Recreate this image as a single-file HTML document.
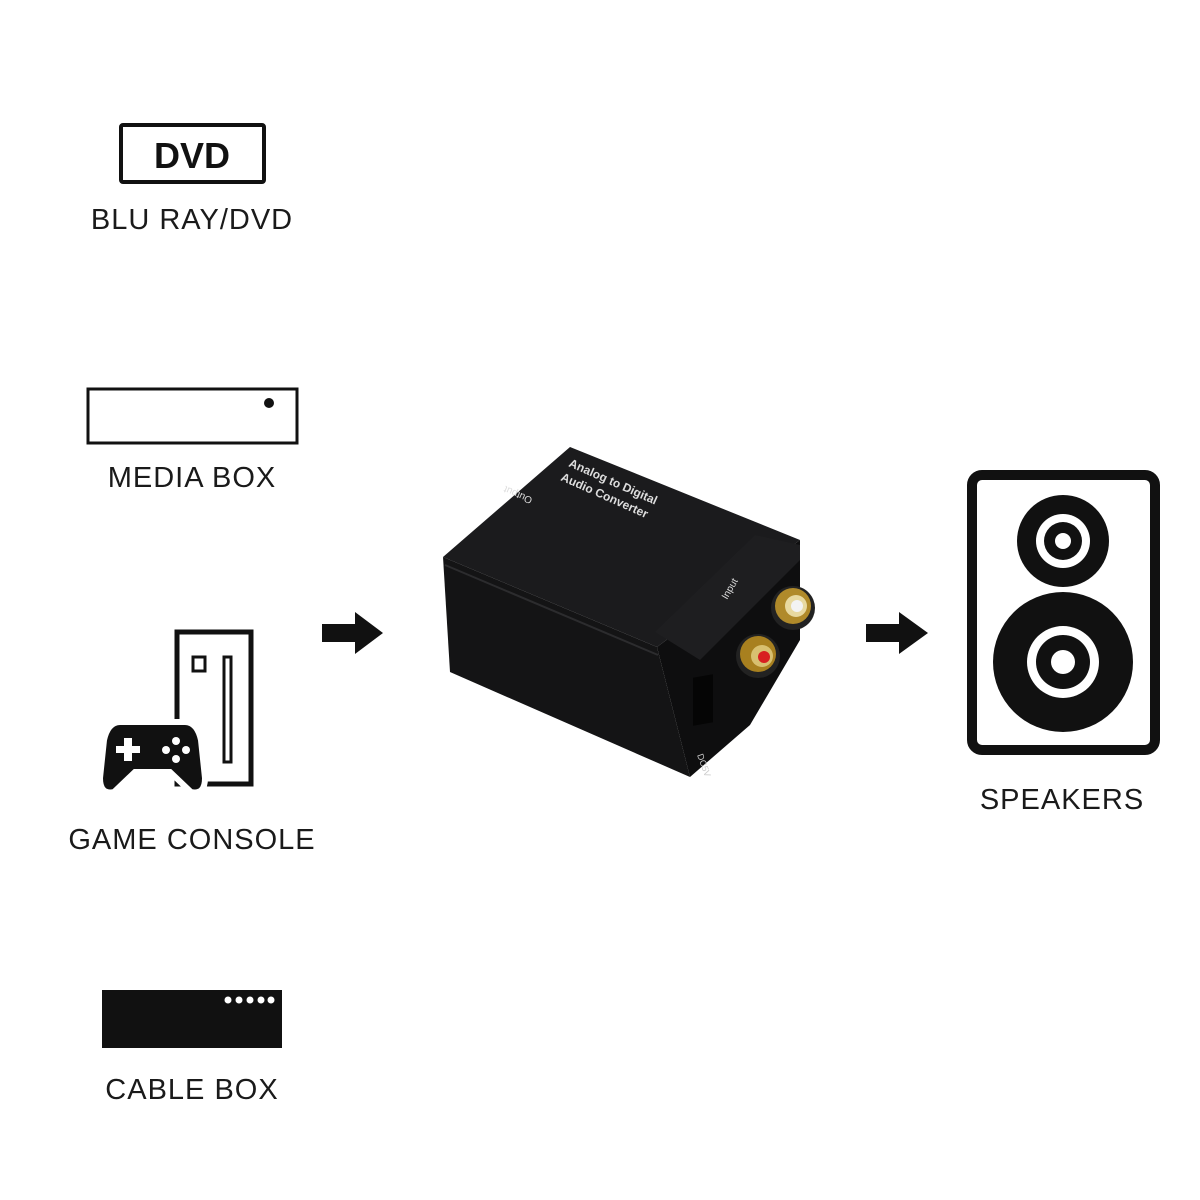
<!DOCTYPE html>
<html><head><style>
body{margin:0;width:1200px;height:1200px;background:#fff;position:relative;overflow:hidden;font-family:"Liberation Sans","DejaVu Sans",sans-serif}
.lbl{position:absolute;font-size:29px;color:#1a1a1a;text-align:center;width:400px;letter-spacing:1px}
</style></head><body>
<svg width="1200" height="1200" style="position:absolute;left:0;top:0">
<!-- DVD -->
<rect x="121" y="125" width="143" height="57" fill="none" stroke="#111" stroke-width="4" rx="2"/>
<text x="192" y="168" font-family="Liberation Sans" font-weight="bold" font-size="36" text-anchor="middle" fill="#111">DVD</text>
<!-- media box -->
<rect x="88" y="389" width="209" height="54" fill="none" stroke="#111" stroke-width="3"/>
<circle cx="269" cy="403" r="5" fill="#111"/>
<!-- game console tower -->
<rect x="177" y="632" width="74" height="152" fill="none" stroke="#111" stroke-width="5"/>
<rect x="193" y="657" width="12" height="14" fill="none" stroke="#111" stroke-width="3"/>
<rect x="224" y="657" width="7" height="105" fill="none" stroke="#111" stroke-width="3"/>
<!-- controller -->
<path d="M120 722 Q108 722 104 740 L100 778 Q100 795 114 792 L135 772 L170 772 L191 792 Q205 795 205 778 L201 740 Q197 722 185 722 Z" fill="#111" stroke="#fff" stroke-width="6"/>
<rect x="116" y="746" width="24" height="7" fill="#fff"/><rect x="124" y="738" width="8" height="23" fill="#fff"/>
<circle cx="176" cy="741" r="4" fill="#fff"/><circle cx="186" cy="750" r="4" fill="#fff"/><circle cx="176" cy="759" r="4" fill="#fff"/><circle cx="166" cy="750" r="4" fill="#fff"/>
<!-- cable box -->
<rect x="102" y="990" width="180" height="58" fill="#111"/>
<circle cx="228" cy="1000" r="3.5" fill="#fff"/><circle cx="239" cy="1000" r="3.5" fill="#fff"/><circle cx="250" cy="1000" r="3.5" fill="#fff"/><circle cx="261" cy="1000" r="3.5" fill="#fff"/><circle cx="271" cy="1000" r="3.5" fill="#fff"/>
<!-- arrows -->
<path d="M322 624 L355 624 L355 612 L383 633 L355 654 L355 642 L322 642 Z" fill="#111"/>
<path d="M866 624 L899 624 L899 612 L928 633 L899 654 L899 642 L866 642 Z" fill="#111"/>
<!-- converter -->
<polygon points="443,557 570,447 800,540 657,647" fill="#1b1b1d"/>
<polygon points="443,557 657,647 690,777 450,672" fill="#141415"/>
<polygon points="657,647 800,540 800,640 750,725 690,777" fill="#0e0e0f"/>
<polygon points="655,632 755,535 800,545 800,560 700,660" fill="#1e1e20"/>
<line x1="445" y1="565" x2="658" y2="655" stroke="#2c2c2e" stroke-width="2"/>
<text font-family="Liberation Sans" font-weight="bold" font-size="12" fill="#ddd" transform="translate(568,466) rotate(24)">Analog to Digital</text>
<text font-family="Liberation Sans" font-weight="bold" font-size="12" fill="#ddd" transform="translate(560,480) rotate(24)">Audio Converter</text>
<text font-family="Liberation Sans" font-size="10" fill="#ddd" transform="translate(533,498) rotate(204)">Output</text>
<text font-family="Liberation Sans" font-size="10" fill="#ddd" transform="translate(727,600) rotate(-60)">Input</text>
<text font-family="Liberation Sans" font-size="9" fill="#ccc" transform="translate(697,755) rotate(70)">DC5V</text>
<rect x="693" y="675" width="20" height="48" fill="#050505" transform="skewY(-10) translate(0,125)"/>
<circle cx="793" cy="608" r="22" fill="#222"/><circle cx="793" cy="606" r="18" fill="#b08a2a"/><circle cx="796" cy="606" r="11" fill="#e8d9a0"/><circle cx="797" cy="606" r="6" fill="#f3f3f3"/>
<circle cx="758" cy="656" r="22" fill="#222"/><circle cx="758" cy="654" r="18" fill="#a8801f"/><circle cx="762" cy="656" r="11" fill="#d8c070"/><circle cx="764" cy="657" r="6" fill="#d82020"/>
<!-- speaker -->
<rect x="972" y="475" width="183" height="275" rx="10" fill="none" stroke="#111" stroke-width="10"/>
<circle cx="1063" cy="541" r="46" fill="#111"/><circle cx="1063" cy="541" r="27" fill="#fff"/><circle cx="1063" cy="541" r="19" fill="#111"/><circle cx="1063" cy="541" r="8" fill="#fff"/>
<circle cx="1063" cy="662" r="70" fill="#111"/><circle cx="1063" cy="662" r="36" fill="#fff"/><circle cx="1063" cy="662" r="27" fill="#111"/><circle cx="1063" cy="662" r="12" fill="#fff"/>
</svg>
<div class="lbl" style="left:-8px;top:204px">BLU RAY/DVD</div>
<div class="lbl" style="left:-8px;top:462px">MEDIA BOX</div>
<div class="lbl" style="left:-8px;top:824px">GAME CONSOLE</div>
<div class="lbl" style="left:-8px;top:1074px">CABLE BOX</div>
<div class="lbl" style="left:862px;top:784px">SPEAKERS</div>
</body></html>
